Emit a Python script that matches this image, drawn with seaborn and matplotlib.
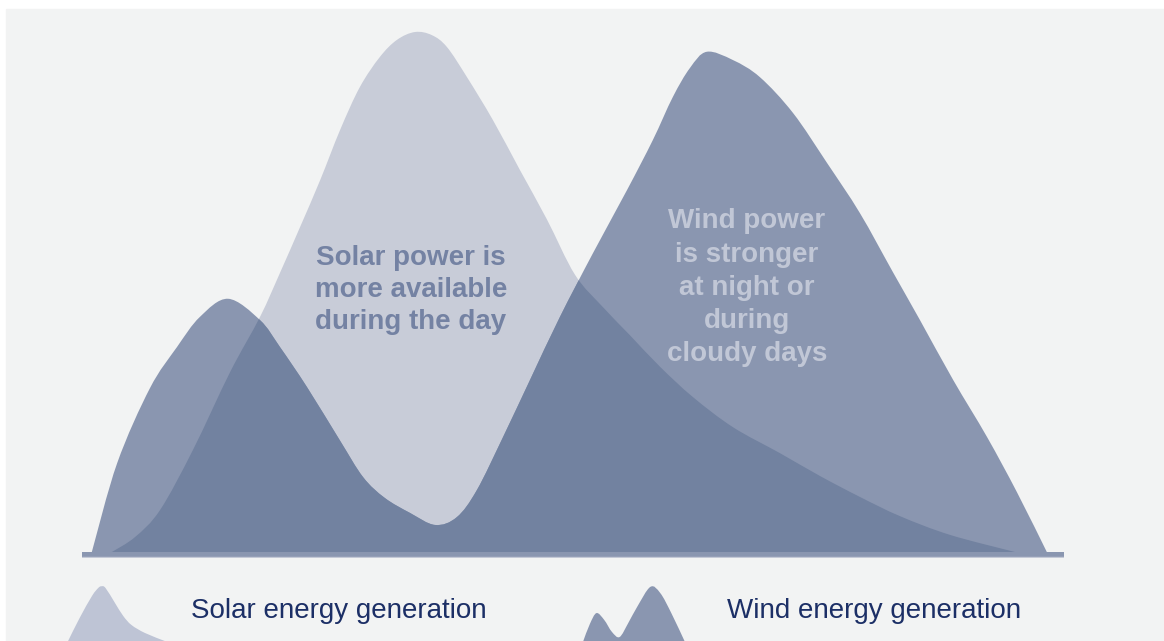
import numpy as np
import matplotlib
matplotlib.use('Agg')
import matplotlib.pyplot as plt
from matplotlib.patches import Rectangle, PathPatch
from matplotlib.path import Path
import seaborn as sns

# hour of day vs generation (% of the solar peak)
solar_hour = [0.73, 1.30, 1.91, 2.71, 3.62, 4.35, 4.84, 5.33, 5.82, 6.31, 6.79, 7.28, 7.70,
              8.14, 8.55, 8.92, 9.41, 10.04, 10.70, 11.36, 12.05, 12.73, 13.39, 14.13, 14.93, 15.91,
              17.06, 18.04, 19.01, 19.99, 21.21, 22.80]
solar_gen = [0.0, 2.9, 8.1, 19.6, 34.6, 45.2, 53.7, 62.5, 71.5, 81.2, 89.4, 95.2, 98.5,
             100.0, 99.4, 97.1, 91.3, 83.1, 73.5, 64.0, 53.3, 47.1, 41.7, 35.6, 29.8, 24.0,
             19.0, 14.6, 10.6, 6.9, 3.3, 0.0]

wind_hour = [0.24, 0.86, 1.66, 2.32, 2.88, 3.57, 4.35, 4.84, 5.50, 6.30, 6.87, 7.40, 8.02, 8.63,
             9.16, 9.65, 10.29, 10.95, 11.68, 12.49, 13.32, 13.95, 14.44, 14.86, 15.27, 15.91,
             16.57, 17.38, 18.21, 19.01, 19.82, 20.48, 21.29, 22.12, 22.85, 23.58]
wind_gen = [0.0, 17.1, 31.5, 39.4, 45.2, 48.7, 44.6, 39.4, 31.7, 21.5, 14.4, 10.4, 7.5, 5.2,
            6.7, 11.9, 22.1, 33.1, 45.2, 57.5, 69.6, 79.2, 87.5, 93.1, 96.2, 94.6,
            91.3, 84.4, 74.8, 65.2, 53.8, 44.6, 33.1, 22.1, 11.5, 0.0]

# little legend glyphs (relative shapes)
solar_icon_x = [0.02, 0.13, 0.25, 0.31, 0.34, 0.38, 0.47, 0.55, 0.63, 0.76, 0.95]
solar_icon_y = [0.0, 0.40, 0.79, 0.93, 0.96, 0.93, 0.67, 0.44, 0.28, 0.14, 0.0]
wind_icon_x = [0.03, 0.09, 0.15, 0.22, 0.29, 0.36, 0.44, 0.52, 0.64, 0.73, 0.83, 0.95]
wind_icon_y = [0.0, 0.30, 0.49, 0.37, 0.16, 0.07, 0.32, 0.60, 0.95, 0.84, 0.49, 0.0]

labels = ['Solar energy generation', 'Wind energy generation']
solar_note = 'Solar power is\nmore available\nduring the day'
wind_note = 'Wind power\nis stronger\nat night or\nduring\ncloudy days'

panel = '#f2f3f3'
solar_col, wind_col, overlap_col = sns.color_palette(['#c8ccd8', '#8a96b0', '#7282a0'])
navy = '#1c2f66'


def smooth_area(xs, ys):
    # closed area under a smooth (catmull-rom) curve through the points
    p = np.column_stack([xs, ys])
    q = np.vstack([p[0], p, p[-1]])
    verts = [p[0]]
    codes = [Path.MOVETO]
    for i in range(1, len(q) - 2):
        c1 = q[i] + (q[i + 1] - q[i - 1]) / 6
        c2 = q[i + 1] - (q[i + 2] - q[i]) / 6
        verts += [c1, c2, q[i + 1]]
        codes += [Path.CURVE4] * 3
    verts += [(xs[-1], 0), (xs[0], 0), (xs[0], 0)]
    codes += [Path.LINETO, Path.LINETO, Path.CLOSEPOLY]
    return Path(verts, codes)


sns.set_theme(style='white')
plt.rcParams['font.family'] = ['Liberation Sans', 'DejaVu Sans']

W, H = 1164, 641
fig = plt.figure(figsize=(W / 100, H / 100), dpi=100)
fig.patch.set_facecolor('white')
fig.patches.append(Rectangle((6 / W, 0), 1, (H - 9) / H, transform=fig.transFigure,
                             color=panel, zorder=-10))

# main plot area, 0 at the top of the baseline strip
ax = fig.add_axes([82 / W, (H - 558) / H, (1064 - 82) / W, (558 - 9) / H])
ax.set_facecolor('none')
px = 5.2  # pixels per unit
ax.set_xlim(0, 24)
ax.set_ylim(-6 / px, (552 - 9) / px)

solar_patch = PathPatch(smooth_area(solar_hour, solar_gen), facecolor=solar_col, lw=0, zorder=1)
ax.add_patch(solar_patch)
wind_path = smooth_area(wind_hour, wind_gen)
ax.add_patch(PathPatch(wind_path, facecolor=wind_col, lw=0, zorder=2))

# where both overlap -> darker tone
over = PathPatch(wind_path, facecolor=overlap_col, lw=0, zorder=3)
ax.add_patch(over)
over.set_clip_path(solar_patch)

# baseline strip
ax.axhspan(-6 / px, 0, color=wind_col, lw=0, zorder=4)
ax.axhline(-6 / px + 0.15, color='#c4c9d6', lw=1, zorder=4)

ax.text(8.04, 50.4, solar_note, ha='center', va='center', fontsize=20, fontweight='bold',
        color='#7482a3', linespacing=1.32, zorder=5)
ax.text(16.25, 50.8, wind_note, ha='center', va='center', fontsize=20, fontweight='bold',
        color='#c1c7d6', linespacing=1.36, zorder=5)

ax.set_xticks([])
ax.set_yticks([])
sns.despine(ax=ax, left=True, bottom=True)

# legend glyphs + labels
iax1 = fig.add_axes([66 / W, 0, 104 / W, 57 / H])
iax1.add_patch(PathPatch(smooth_area(solar_icon_x, solar_icon_y), facecolor='#bec4d5', lw=0))
iax2 = fig.add_axes([580 / W, 0, 110 / W, 57 / H])
iax2.add_patch(PathPatch(smooth_area(wind_icon_x, wind_icon_y), facecolor=wind_col, lw=0))
for a in (iax1, iax2):
    a.set_xlim(0, 1)
    a.set_ylim(0, 1)
    a.set_facecolor('none')
    a.axis('off')

fig.text(191 / W, (H - 611) / H, labels[0], ha='left', va='center', fontsize=20, color=navy)
fig.text(727 / W, (H - 611) / H, labels[1], ha='left', va='center', fontsize=20, color=navy)

fig.savefig('out.png', dpi=100)
